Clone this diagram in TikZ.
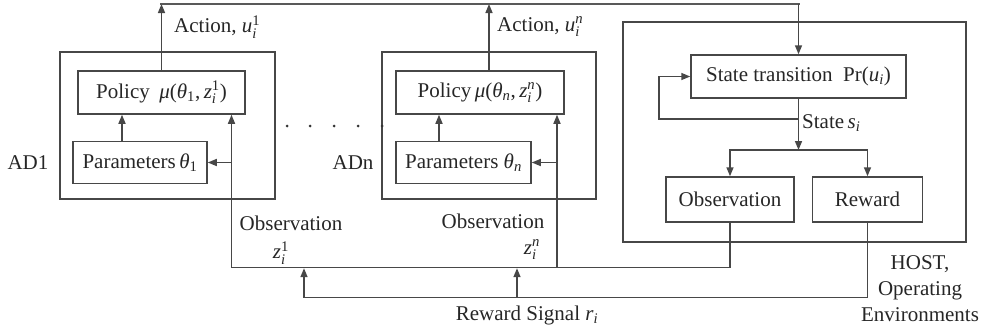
\documentclass[tikz,border=0pt]{standalone}
\usepackage{amsmath}
\usepackage{fontspec}
\setmainfont{Liberation Serif}
\usetikzlibrary{arrows.meta,calc}

% italic letters for the math quantities, upright digits in indices
\newcommand{\mi}[1]{\textit{#1}}

\begin{document}
\begin{tikzpicture}[x=1pt,y=-1pt,
  every node/.style={font=\fontsize{21}{26}\selectfont, text=black!85},
  box/.style={draw=black!72, line width=1.5pt, inner sep=0pt},
  ln/.style={draw=black!72, line width=1.5pt},
  arr/.style={ln, -{Triangle[length=9pt,width=7pt]}},
  dot/.style={circle, fill=black!80, inner sep=0pt, minimum size=3pt}]

\useasboundingbox (0,0) rectangle (982,335);

% agent AD1
\node[box, minimum width=215pt, minimum height=147pt] (ad1) at (167.5,125.5) {};
\node[box, minimum width=167pt, minimum height=43pt] (policy1) at (161.5,92.5)
  {Policy\hspace{0.45em}\mi{μ}(\mi{θ}$_{\textrm{1}}$,\,\mi{z}$^{\textrm{1}}_{\textit{i}}$)};
\node[box, minimum width=134pt, minimum height=42pt] (param1) at (140,162.5)
  {Parameters\,\mi{θ}$_{\textrm{1}}$};
\node (ad1lbl) at (28,163) {AD1};

% agent ADn
\node[box, minimum width=214pt, minimum height=147pt] (adn) at (489,125.5) {};
\node[box, minimum width=168pt, minimum height=43pt] (policyN) at (480,92.5)
  {Policy\,\mi{μ}(\mi{θ}$_{\textit{n}}$,\,\mi{z}$^{\textit{n}}_{\textit{i}}$)};
\node[box, minimum width=135pt, minimum height=42pt] (paramN) at (463.5,162.5)
  {Parameters \mi{θ}$_{\textit{n}}$};
\node (adnlbl) at (353,163) {ADn};

% dots between the agents
\foreach \x [count=\k] in {287,310,334,358,382}
  \node[dot] (d\k) at (\x,126) {};

% host environment
\node[box, minimum width=343pt, minimum height=220pt] (host) at (794.5,132) {};
\node[box, minimum width=215pt, minimum height=43pt] (state) at (798.5,76.5)
  {State transition~~Pr(\mi{u}$_{\textit{i}}$)};
\node[box, minimum width=128pt, minimum height=45pt] (obs) at (730,199.5) {Observation};
\node[box, minimum width=110pt, minimum height=45pt] (reward) at (867.5,199.5) {Reward};
\node[align=center, inner sep=0pt] (hostlbl) at (920,289)
  {HOST,\\Operating\\Environments};

% labels on the connectors
\node[anchor=west, inner sep=0pt] (act1) at (174,27) {Action, \mi{u}$^{\textrm{1}}_{\textit{i}}$};
\node[anchor=west, inner sep=0pt] (actn) at (497,27) {Action, \mi{u}$^{\textit{n}}_{\textit{i}}$};
\node (obs1lbl) at (291,223) {Observation};
\node (z1lbl) at (281,253) {\mi{z}$^{\textrm{1}}_{\textit{i}}$};
\node (obsnlbl) at (493,221) {Observation};
\node (znlbl) at (532,250) {\mi{z}$^{\textit{n}}_{\textit{i}}$};
\node[anchor=west, inner sep=0pt] (slbl) at (802,123) {State\,\mi{s}$_{\textit{i}}$};
\node (rsig) at (527,315) {Reward Signal \mi{r}$_{\textit{i}}$};

% reference rows and columns
\coordinate (top) at (0,4);
\coordinate (obsrow) at (0,267.5);
\coordinate (o1) at (231.5,267.5);
\coordinate (on) at (557,267.5);
\coordinate (r1) at (304,297.5);
\coordinate (rn) at (517,297.5);
\coordinate (split) at (798.5,150);
\coordinate (lp) at (798.5,119);
\coordinate (lpc) at (659,119);

% actions up to the host
\draw[arr] (policy1.north) -- (policy1.north |- top);
\draw[arr] (policyN.north -| adn.north) -- (adn.north |- top);
\draw[ln, line width=2.2pt, draw=black!65, line cap=rect] (policy1.north |- top)
  -- (top -| state.north);
\draw[arr] (top -| state.north) -- (state.north);

% parameters feed the policies
\draw[arr] (param1.north -| 122,0) -- (policy1.south -| 122,0);
\draw[arr] (paramN.north -| 439,0) -- (policyN.south -| 439,0);

% state transition and its loop
\draw[arr] (state.south) -- (split);
\draw[arr] (split) -| (obs.north);
\draw[arr] (split) -| (reward.north);
\draw[arr] (lp) -- (lpc) |- (state.west);

% observations back to the agents
\draw[arr] (obs.south) -- (obs.south |- obsrow) -- (o1) -- (o1 |- policy1.south);
\draw[arr] (o1 |- param1.east) -- (param1.east);
\draw[arr] (on) -- (on |- policyN.south);
\draw[arr] (on |- paramN.east) -- (paramN.east);

% reward signal
\draw[ln] (reward.south) -- (reward.south |- r1) -- (r1);
\draw[arr, shorten >=0.7pt] (r1) -- (r1 |- obsrow);
\draw[arr, shorten >=0.7pt] (rn) -- (rn |- obsrow);

\end{tikzpicture}
\end{document}
